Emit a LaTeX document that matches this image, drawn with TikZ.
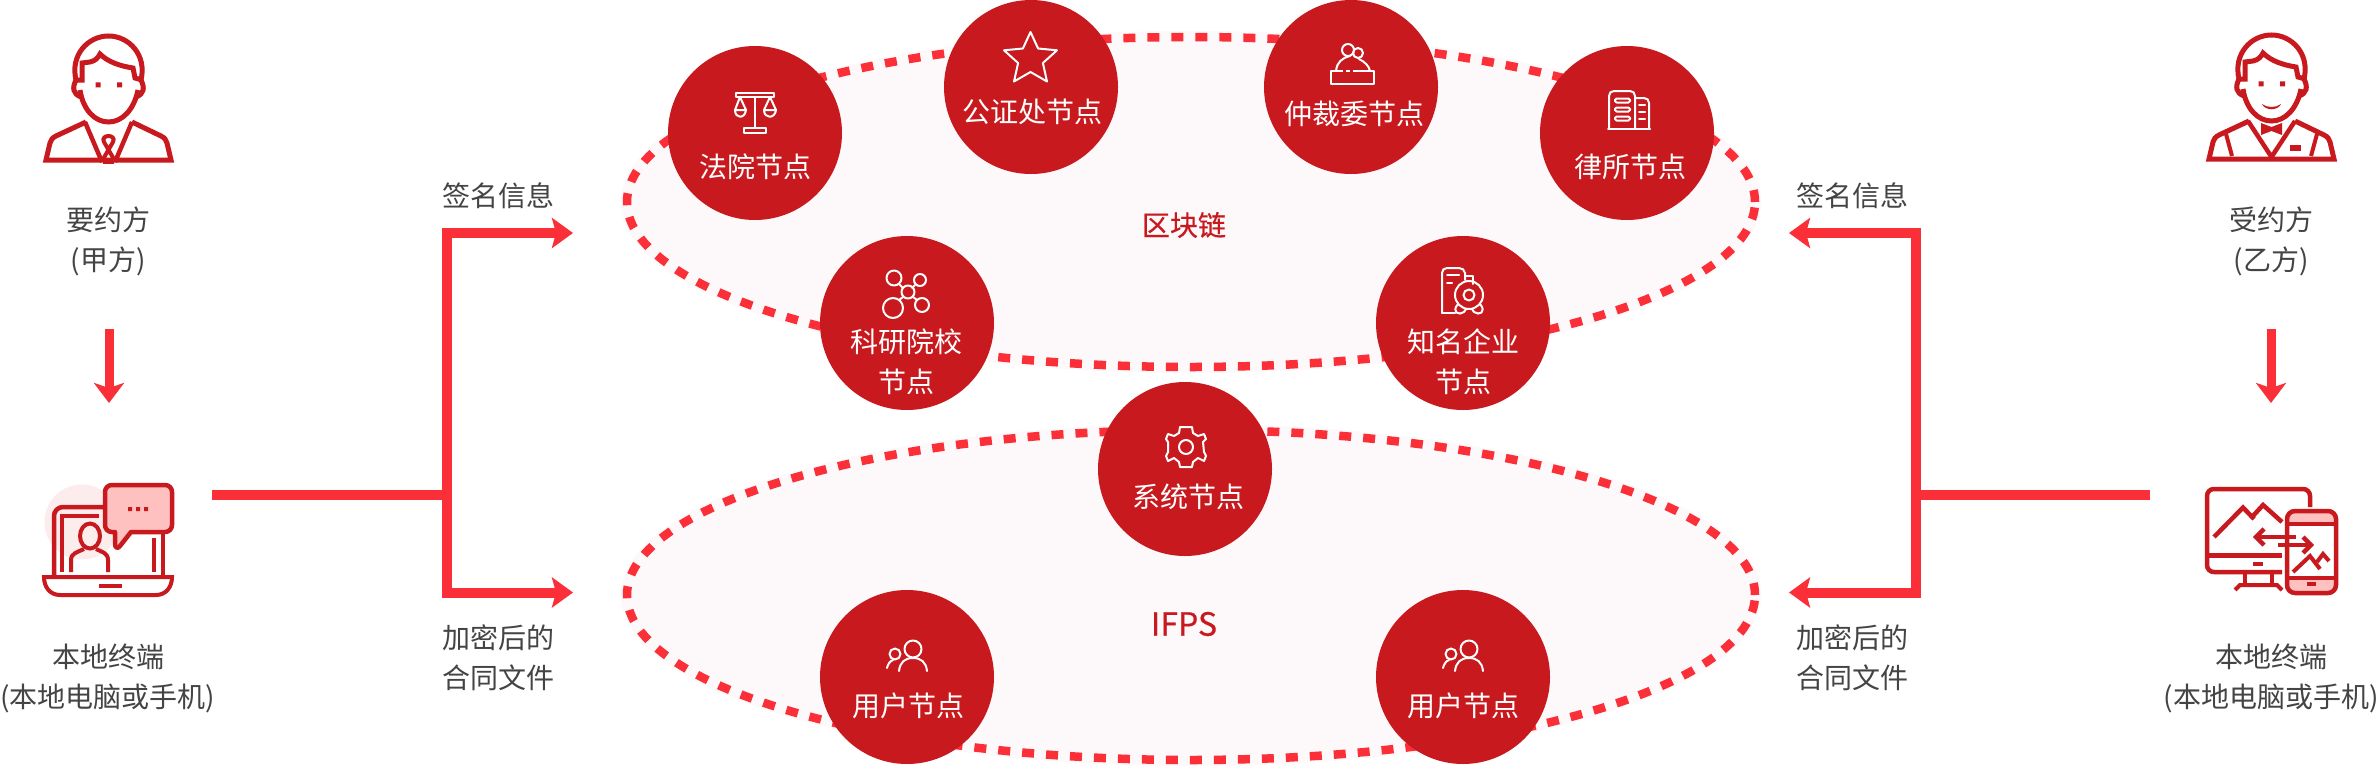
\documentclass[tikz,border=0pt]{standalone}
\usepackage{fontspec}
\setmainfont{Noto Sans CJK SC}
\newfontfamily\chainfont[FakeBold=0.4]{Noto Sans CJK SC}
\usetikzlibrary{shapes.geometric,arrows.meta}
\definecolor{cred}{HTML}{C7191E}
\definecolor{flowred}{HTML}{FA2F38}
\definecolor{palefill}{HTML}{FDF8F9}
\definecolor{pink}{HTML}{FFC0C0}
\definecolor{palepink}{HTML}{FDECEC}
\definecolor{gtext}{HTML}{444444}
\tikzset{
  chain/.style={ellipse,inner sep=0pt,minimum width=1128pt,minimum height=330pt,fill=palefill,draw=flowred,line width=8.5pt,dash pattern=on 12pt off 12pt,preaction={draw=palefill,solid,line width=12pt}},
  peer/.style={circle,fill=cred,inner sep=0pt,minimum size=174pt,draw=none},
  peertext/.style={text=white,inner sep=0pt,font=\fontsize{28}{34}\selectfont},
  gray label/.style={text=gtext,inner sep=0pt,align=center,font=\fontsize{28}{40}\selectfont},
  chaintext/.style={text=cred,inner sep=0pt},
  flow/.style={draw=flowred,line width=10pt,line join=miter},
  flowarrow/.style={flow,-{Stealth[length=21pt,width=30pt,inset=4pt]}},
  downarrow/.style={draw=flowred,line width=9pt,-{Stealth[length=20pt,width=30pt,inset=5pt]}},
  ico/.style={draw=cred,line width=5pt,line join=miter},
  wico/.style={draw=white,line width=2pt,line join=round,line cap=round},
}
\newcommand{\manbase}{%
  \draw[ico] (76,80) .. controls (70,55) and (88,36) .. (108.5,36) .. controls (129,36) and (147,55) .. (141,80);
  \draw[ico] (76,80) .. controls (72,88) and (73,94) .. (81,97);
  \draw[ico] (141,80) .. controls (145,88) and (144,94) .. (136,97);
  \draw[ico] (80,90) .. controls (83,110) and (95,122) .. (108.5,122) .. controls (122,122) and (134,110) .. (138,90);
  \draw[ico] (75,80) -- (82,80) -- (82,63) -- (90,62) .. controls (95,61) and (98,58) .. (100,54) .. controls (108,62) and (120,66) .. (133,68) -- (135,78) -- (142,80);
  \fill[cred] (95.7,82.3) rectangle (100.7,87.3) (117,82.3) rectangle (122,87.3);
  \draw[ico] (86,122) -- (56,136) .. controls (52,138) and (51,140) .. (50,143) -- (46,160) -- (171,160) -- (167,143) .. controls (166,140) and (165,138) .. (161,136) -- (132,122);
}
\begin{document}
\begin{tikzpicture}[x=1pt,y=-1pt]
\useasboundingbox (0,0) rectangle (2380,766);
\fill[white] (0,0) rectangle (2380,766);

% ellipses
\node[chain] (chainA) at (1191,202) {};
\node[chain] (chainB) at (1191,595) {};
\node[chaintext,font=\chainfont\fontsize{28}{34}\selectfont] (chainAt) at (1184,225) {区块链};
\node[chaintext,font=\chainfont\fontsize{32}{36}\selectfont] (chainBt) at (1184,624) {IFPS};

% peers
\node[peer] (court) at (755,133) {};
\node[peer] (notary) at (1031,87) {};
\node[peer] (arb) at (1351,87) {};
\node[peer] (law) at (1627,133) {};
\node[peer] (sci) at (907,323) {};
\node[peer] (corp) at (1463,323) {};
\node[peer] (sys) at (1185,469) {};
\node[peer] (userL) at (907,677) {};
\node[peer] (userR) at (1463,677) {};

\node[peertext] (courtT) at (755,167) {法院节点};
\node[peertext] (notaryT) at (1032,112) {公证处节点};
\node[peertext] (arbT) at (1354,114) {仲裁委节点};
\node[peertext] (lawT) at (1630,167) {律所节点};
\node[peertext] (sciT1) at (906,342) {科研院校};
\node[peertext] (sciT2) at (906,382) {节点};
\node[peertext] (corpT1) at (1463,342) {知名企业};
\node[peertext] (corpT2) at (1463,382) {节点};
\node[peertext] (sysT) at (1188,497) {系统节点};
\node[peertext] (userLT) at (908,706) {用户节点};
\node[peertext] (userRT) at (1463,706) {用户节点};

% white icons
% scales
\draw[wico] (736,93) rectangle (774,97);
\draw[wico] (755,97) -- (755,128);
\draw[wico] (744,128) rectangle (766,133);
\draw[wico] (740,97) -- (735,110) .. controls (735,119) and (745,119) .. (746,110) -- (735,110) (740,97) -- (746,110);
\draw[wico] (770,97) -- (764,110) .. controls (764,119) and (775,119) .. (776,110) -- (764,110) (770,97) -- (776,110);
% star
\draw[wico] (1030.5,32) -- (1038.1,48.5) -- (1057,50.3) -- (1042.9,63) -- (1047,81.5) -- (1030.5,72) -- (1014,81.5) -- (1018.1,63) -- (1004,50.3) -- (1022.9,48.5) -- cycle;
% arbitration
\draw[wico] (1331,71) rectangle (1374,84);
\draw[wico] (1336,71) .. controls (1337,62) and (1342,58) .. (1350,56);
\draw[wico] (1359,59) .. controls (1365,62) and (1369,66) .. (1370,71);
\draw[wico] (1348,50) circle (6);
\draw[wico] (1358,53) circle (5);
\draw[draw=cred,line width=2pt] (1343,71) -- (1346,71) (1350,71) -- (1353,71);
% building
\draw[wico] (1609,129) -- (1609,96) .. controls (1609,93) and (1611,91) .. (1614,91) -- (1630,91) .. controls (1633,91) and (1635,93) .. (1635,96) -- (1635,129);
\draw[wico] (1635,98) -- (1644,98) .. controls (1647,98) and (1649,100) .. (1649,103) -- (1649,129);
\draw[wico] (1608,129) -- (1650,129);
\draw[wico,rounded corners=1.5pt] (1615,98.5) rectangle (1630,102.5);
\draw[wico,rounded corners=1.5pt] (1615,107.5) rectangle (1630,111.5);
\draw[wico,rounded corners=1.5pt] (1615,116.5) rectangle (1630,120.5);
\draw[wico] (1639,105) -- (1645,105) (1639,112) -- (1645,112) (1639,119) -- (1645,119);
% molecule
\draw[wico] (894,278) circle (7.5) (920,280) circle (6) (908,292) circle (6.5) (893,308) circle (10) (922,305) circle (7);
\draw[wico] (899,284) -- (903,288) (915,285) -- (912,288) (903,297) -- (899,300) (913,297) -- (917,300);
% corp
\draw[wico] (1442,313) -- (1442,273) .. controls (1442,270) and (1444,268) .. (1447,268) -- (1459,268) .. controls (1462,268) and (1465,270) .. (1465,273) -- (1465,280);
\draw[wico] (1465,276) -- (1473,276) -- (1473,284);
\draw[wico] (1442,313) -- (1455,313);
\draw[wico] (1447,275) -- (1459,275) (1447,283) -- (1452,283);
\draw[wico] (1469,295) circle (14) (1469,295) circle (5.5);
\draw[wico] (1458,304) .. controls (1451,312) and (1459,316) .. (1464,312) -- (1466,309);
\draw[wico] (1480,304) .. controls (1487,312) and (1479,316) .. (1474,312) -- (1472,309);
% gear
\draw[wico] (1186,427) -- (1192,427) -- (1193,433) -- (1198,436) -- (1204,434) -- (1206,439) -- (1203,442) -- (1204,452) -- (1206,456) -- (1204,461) -- (1198,458) -- (1193,462) -- (1192,467) -- (1180,467) -- (1179,462) -- (1174,458) -- (1168,461) -- (1166,456) -- (1168,452) -- (1168,442) -- (1166,439) -- (1168,434) -- (1174,436) -- (1179,433) -- (1180,427) -- cycle;
\draw[wico] (1186,447) circle (7);
% users
\foreach \dx/\nm in {0/a,556/b}{
  \begin{scope}[xshift=\dx pt]
    \draw[wico] (913,649) circle (8.5);
    \draw[wico] (899,671) .. controls (900,662) and (905,658) .. (913,658) .. controls (921,658) and (926,662) .. (927,671);
    \draw[wico] (895,654) circle (5.5);
    \draw[wico] (887,668) .. controls (888,664) and (890,661) .. (893,660);
  \end{scope}
}

% left man
\manbase
\draw[ico,line width=4.5pt] (85,122) -- (102,162);
\draw[ico,line width=4.5pt] (132,122) -- (115,162);
\draw[ico,line width=4pt] (103,162) -- (114,162);
\draw[ico,line width=4pt] (115,161) -- (104,142) .. controls (100,134) and (117,134) .. (113,142) -- (102,161);

% right man
\begin{scope}[xshift=2163pt,yshift=1pt]
\manbase
\draw[ico,line width=4.5pt] (85,122) -- (108.5,158) -- (132,122);
\draw[ico,line width=4pt] (63,135) -- (69,157);
\draw[ico,line width=4pt] (154,135) -- (148,157);
\end{scope}
\fill[cred] (2261,123) -- (2271.5,127) -- (2282,123) -- (2282,135) -- (2271.5,131) -- (2261,135) -- cycle;
\fill[cred] (2290,145) rectangle (2301,151);
\fill[cred] (2262,104) .. controls (2267,108) and (2276,108) .. (2281,104) .. controls (2278,111) and (2265,111) .. (2262,104) -- cycle;

% laptop
\fill[palepink] (82,522) circle (37.5);
\draw[ico,line width=4.5pt,rounded corners=9pt] (54,577) -- (54,507) -- (110,507);
\draw[ico,line width=4.5pt] (163,530) -- (163,577);
\draw[ico,line width=4.5pt] (62,572) -- (62,516) -- (99,516);
\draw[ico,line width=4.5pt] (154,538) -- (154,572);
\draw[ico,line width=4pt] (90,536) ellipse (10 and 12.5);
\draw[ico,line width=4pt] (71,572) -- (71,560) .. controls (71,553) and (78,552) .. (84,549) (96,549) .. controls (102,552) and (108,553) .. (108,560) -- (108,572);
\draw[ico,line width=4pt,fill=white] (44,577) -- (172,577) .. controls (172,587) and (166,595) .. (156,595) -- (60,595) .. controls (50,595) and (44,587) .. (44,577) -- cycle;
\fill[cred] (99,584) rectangle (122,588);
\draw[ico,line width=4.5pt,fill=pink,line join=round] (112,485) -- (165,485) .. controls (169,485) and (172,488) .. (172,492) -- (172,525) .. controls (172,529) and (169,532) .. (165,532) -- (131,532) -- (120,546) .. controls (118,549) and (115,548) .. (115,544) -- (115,532) -- (112,532) .. controls (108,532) and (105,529) .. (105,525) -- (105,492) .. controls (105,488) and (108,485) .. (112,485) -- cycle;
\fill[cred] (128,507) rectangle (132,511) (136,507) rectangle (140,511) (144,507) rectangle (148,511);

% monitor
\draw[ico,line width=4.5pt] (2310,507) -- (2310,496) .. controls (2310,492) and (2307,489) .. (2303,489) -- (2214,489) .. controls (2210,489) and (2207,492) .. (2207,496) -- (2207,565) .. controls (2207,569) and (2210,572) .. (2214,572) -- (2282,572);
\draw[ico,line width=4.5pt] (2207,555.5) -- (2282,555.5);
\fill[cred] (2253,561.5) rectangle (2263,565.5);
\draw[ico,line width=4.5pt] (2245,572) -- (2245,583) (2272,572) -- (2272,583);
\draw[ico,line width=4pt] (2235,590) -- (2240,585) -- (2277,585) -- (2282,590);
\draw[ico,line width=4.5pt] (2214,537) -- (2243,507.5) -- (2254,519);
\draw[ico,line width=4.5pt] (2252,517) -- (2263,505) -- (2282,522);
\fill[pink,rounded corners=8pt] (2287,511) rectangle (2336,593);
\fill[white] (2287,524) rectangle (2336,578);
\draw[ico,line width=4.5pt,rounded corners=8pt] (2287,511) rectangle (2336,593);
\draw[ico,line width=4.5pt] (2287,524) -- (2336,524) (2287,578) -- (2336,578);
\fill[cred] (2307,582) rectangle (2316,586);
\draw[ico,line width=4.5pt] (2296,537) -- (2256,537);
\draw[ico,line width=4.5pt] (2264,529) -- (2256,537) -- (2264,545);
\draw[ico,line width=4.5pt] (2278,545) -- (2309,545);
\draw[ico,line width=4.5pt] (2303,537) -- (2311,545) -- (2303,553);
\draw[ico,line width=4pt] (2293,572) -- (2310,556) -- (2320,569);
\draw[ico,line width=4pt] (2317,562) -- (2323,554) -- (2329,561);

% labels
\node[gray label] (yao) at (108,241) {要约方\\(甲方)};
\node[gray label] (termL) at (108,678) {本地终端\\(本地电脑或手机)};
\node[gray label] (shou) at (2271,241) {受约方\\(乙方)};
\node[gray label] (termR) at (2271,678) {本地终端\\(本地电脑或手机)};
\node[gray label] (signL) at (498,196) {签名信息};
\node[gray label] (encL) at (498,658) {加密后的\\合同文件};
\node[gray label] (signR) at (1852,196) {签名信息};
\node[gray label] (encR) at (1852,658) {加密后的\\合同文件};

% connectors
\coordinate (lStart) at (212,495);
\coordinate (lJoin) at (447,495);
\coordinate (lTop) at (573,233);
\coordinate (lBot) at (573,592.5);
\coordinate (rStart) at (2150,495);
\coordinate (rJoin) at (1916,495);
\coordinate (rTop) at (1789,233);
\coordinate (rBot) at (1789,592.5);
\coordinate (dLa) at (109,329);
\coordinate (dLb) at (109,403);
\coordinate (dRa) at (2271,329);
\coordinate (dRb) at (2271,403);
\draw[flow] (lStart) -- (lJoin);
\draw[flowarrow] (lJoin) |- (lTop);
\draw[flowarrow] (lJoin) |- (lBot);
\draw[flow] (rStart) -- (rJoin);
\draw[flowarrow] (rJoin) |- (rTop);
\draw[flowarrow] (rJoin) |- (rBot);
\draw[downarrow] (dLa) -- (dLb);
\draw[downarrow] (dRa) -- (dRb);
\end{tikzpicture}
\end{document}
